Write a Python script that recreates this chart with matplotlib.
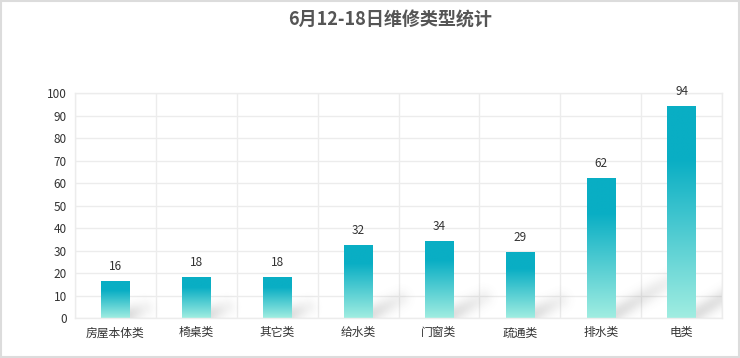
import matplotlib.pyplot as plt
import numpy as np
from matplotlib.colors import to_rgb

plt.rcParams['font.family'] = ['Noto Sans CJK SC', 'DejaVu Sans']

# data
categories = ['房屋本体类', '椅桌类', '其它类', '给水类', '门窗类', '疏通类', '排水类', '电类']
counts = [16, 18, 18, 32, 34, 29, 62, 94]
title = '6月12-18日维修类型统计'

top_color = np.array(to_rgb('#09aec4'))
bottom_color = np.array(to_rgb('#a0ede1'))
bar_width = 0.35

fig = plt.figure(figsize=(7.4, 3.58), dpi=100)
ax = fig.add_axes([0.1014, 0.1117, 0.8743, 0.6285])

# gradient used for every bar: solid on top quarter, then fades to light
t = np.linspace(0, 1, 200)[:, None]   # 0 = top, 1 = bottom
k = np.clip((t - 0.25) / 0.75, 0, 1)
grad = top_color[None, None, :] * (1 - k[..., None]) + bottom_color[None, None, :] * k[..., None]

# pixel sizes of one data unit (for the shadows)
px_x = 0.8743 * 740 / len(categories)
px_y = 0.6285 * 358 / 100

x = np.arange(len(categories))
for xi, v in zip(x, counts):
    # soft shadow to the lower right of the bar
    L = 0.9 * v
    H = 0.6 * v
    gx = np.linspace(-8, L + 18, 140)
    gy = np.linspace(-8, H + 18, 140)
    GX, GY = np.meshgrid(gx, gy)
    p0 = np.array([0.0, 4.0])
    p1 = np.array([L, H])
    d = p1 - p0
    s = np.clip(((GX - p0[0]) * d[0] + (GY - p0[1]) * d[1]) / (d @ d), 0, 1)
    dist = np.hypot(GX - (p0[0] + s * d[0]), GY - (p0[1] + s * d[1]))
    alpha = 0.2 * np.exp(-dist ** 2 / (2 * 6.0 ** 2)) * (1 - 0.6 * s)
    img = np.zeros(GX.shape + (4,))
    img[..., :3] = 0.35
    img[..., 3] = alpha
    xr = xi + bar_width / 2
    ax.imshow(img, origin='lower', aspect='auto', interpolation='bilinear',
              extent=[xr - 8 / px_x, xr + (L + 18) / px_x, -8 / px_y, (H + 18) / px_y],
              zorder=1.5)
    # gradient bar
    ax.imshow(grad, aspect='auto', interpolation='bilinear',
              extent=[xi - bar_width / 2, xi + bar_width / 2, 0, v], zorder=2)
    ax.text(xi, v + 4, str(v), ha='center', va='bottom', fontsize=8.5, color='#333333', zorder=3)

ax.set_xlim(-0.5, len(categories) - 0.5)
ax.set_ylim(0, 100)
ax.set_yticks(np.arange(0, 101, 10))
ax.set_xticks(x)
ax.set_xticklabels(categories)
ax.set_xticks(np.arange(-0.5, len(categories), 1), minor=True)
ax.tick_params(axis='both', which='both', length=0, labelsize=8.5, labelcolor='#333333')
ax.tick_params(axis='x', pad=6)
ax.tick_params(axis='y', pad=6)
ax.grid(axis='y', color='#ececec', linewidth=1, zorder=1)
ax.grid(axis='x', which='minor', color='#ececec', linewidth=1, zorder=1)
ax.set_axisbelow(True)
for sp in ax.spines.values():
    sp.set_color('#ececec')
    sp.set_linewidth(1)

fig.text(0.527, 0.945, title, ha='center', va='center', fontsize=13, fontweight='bold', color='#555555')

# light border round the whole picture
fig.patches.append(plt.Rectangle((0.001, 0.002), 0.997, 0.995, transform=fig.transFigure,
                                 fill=False, edgecolor='#dcdcdc', linewidth=1.5))

fig.savefig('out.png', dpi=100)
